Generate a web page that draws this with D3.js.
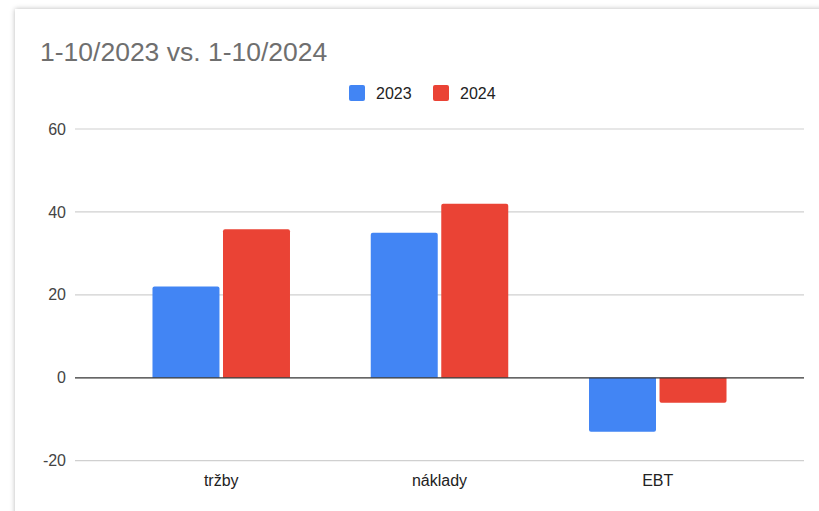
<!DOCTYPE html>
<html>
<head>
<meta charset="utf-8">
<script src="https://cdn.jsdelivr.net/npm/d3@7"></script>
<style>
    html, body { margin: 0; padding: 0; background: #fff; overflow: hidden; }
    #card {
        position: absolute; left: 15px; top: 9px; width: 830px; height: 540px;
        background: #fff; box-shadow: 0 0 5px rgba(0,0,0,0.28);
    }
    svg { position: absolute; left: 0; top: 0; font-family: Arial, "Liberation Sans", sans-serif; }
</style>
</head>
<body>
<div id="card"></div>
<svg width="819" height="511"></svg>
<script>
const categories = ["tržby", "náklady", "EBT"];
const seriesNames = ["2023", "2024"];
const values2023 = [22, 35, -13];
const values2024 = [35.8, 42, -6];
const yTicks = [-20, 0, 20, 40, 60];
const title = "1-10/2023 vs. 1-10/2024";

const colors = { "2023": "#4285F4", "2024": "#EA4335" };

const width = 819, height = 511;
const margin = { left: 75, right: 15, top: 129, bottom: 50 };

const svg = d3.select("svg");

// build rows for grouped bars
const rows = categories.map(function(c, i) {
    return { cat: c, "2023": values2023[i], "2024": values2024[i] };
});

const x0 = d3.scaleBand()
    .domain(categories)
    .range([margin.left, width - margin.right])
    .paddingInner(0.37)
    .paddingOuter(0.355);

const x1 = d3.scaleBand()
    .domain(seriesNames)
    .range([0, x0.bandwidth()])
    .paddingInner(0.05);

const y = d3.scaleLinear()
    .domain([-20, 60])
    .range([460.7, 129]);

// gridlines
svg.append("g").selectAll("line")
    .data(yTicks.filter(function(d) { return d !== 0; }))
    .enter().append("line")
    .attr("x1", margin.left).attr("x2", width - margin.right)
    .attr("y1", function(d) { return y(d); }).attr("y2", function(d) { return y(d); })
    .attr("stroke", "#d0d0d0").attr("stroke-width", 1.2);

// y axis labels (plain hyphen for negatives)
const yAxis = d3.axisLeft(y).tickValues(yTicks).tickSize(0).tickPadding(9)
    .tickFormat(function(d) { return String(d); });
const yg = svg.append("g").attr("transform", "translate(" + margin.left + ",0)").call(yAxis);
yg.select(".domain").remove();
yg.selectAll("text").attr("font-size", 16).attr("fill", "#444").attr("font-family", "Arial, 'Liberation Sans', sans-serif");

// bar path with rounded outer end
function barPath(x, w, v) {
    const r = 2;
    const y0 = y(0), y1 = y(v);
    if (v >= 0) {
        return "M" + x + "," + y0 + "V" + (y1 + r) + "Q" + x + "," + y1 + " " + (x + r) + "," + y1 +
            "H" + (x + w - r) + "Q" + (x + w) + "," + y1 + " " + (x + w) + "," + (y1 + r) + "V" + y0 + "Z";
    }
    return "M" + x + "," + y0 + "V" + (y1 - r) + "Q" + x + "," + y1 + " " + (x + r) + "," + y1 +
        "H" + (x + w - r) + "Q" + (x + w) + "," + y1 + " " + (x + w) + "," + (y1 - r) + "V" + y0 + "Z";
}

const groups = svg.append("g").selectAll("g")
    .data(rows)
    .enter().append("g")
    .attr("transform", function(d) { return "translate(" + x0(d.cat) + ",0)"; });

groups.selectAll("path")
    .data(function(d) { return seriesNames.map(function(s) { return { key: s, value: d[s] }; }); })
    .enter().append("path")
    .attr("d", function(d) { return barPath(x1(d.key), x1.bandwidth(), d.value); })
    .attr("fill", function(d) { return colors[d.key]; });

// zero baseline on top of bars
svg.append("line")
    .attr("x1", margin.left).attr("x2", width - margin.right)
    .attr("y1", y(0)).attr("y2", y(0))
    .attr("stroke", "#333").attr("stroke-width", 1.2);

// category labels
const xAxis = d3.axisBottom(x0).tickSize(0).tickPadding(0);
const xg = svg.append("g").attr("transform", "translate(0," + 472 + ")").call(xAxis);
xg.select(".domain").remove();
xg.selectAll("text").attr("font-size", 16).attr("fill", "#222").attr("dy", "0.85em")
    .attr("font-family", "Arial, 'Liberation Sans', sans-serif");

// title
svg.append("text")
    .attr("x", 40).attr("y", 61)
    .attr("font-size", 26.5).attr("fill", "#6f6f6f")
    .text(title);

// legend
const legendX = [349, 433];
const legend = svg.append("g").selectAll("g")
    .data(seriesNames)
    .enter().append("g")
    .attr("transform", function(d, i) { return "translate(" + legendX[i] + ",85)"; });

legend.append("rect")
    .attr("width", 16).attr("height", 16).attr("rx", 2)
    .attr("fill", function(d) { return colors[d]; });

legend.append("text")
    .attr("x", 27).attr("y", 13.5)
    .attr("font-size", 16).attr("fill", "#222")
    .text(function(d) { return d; });
</script>
</body>
</html>
